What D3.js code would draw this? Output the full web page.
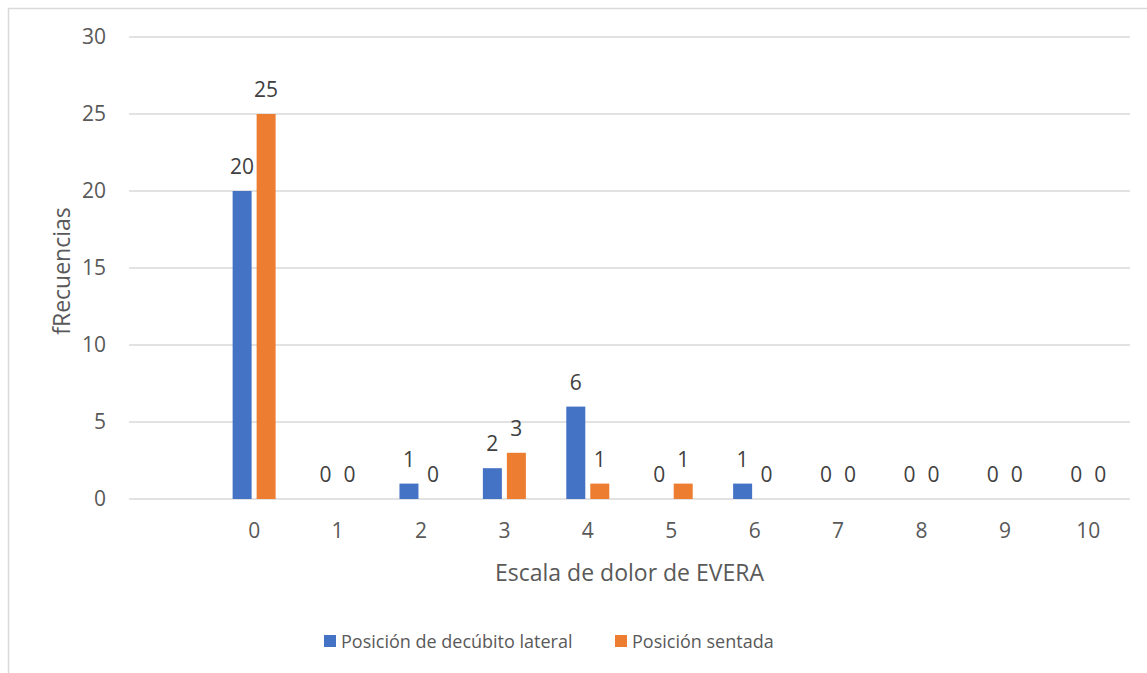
<!DOCTYPE html>
<html>
<head>
<meta charset="utf-8">
<script src="https://cdn.jsdelivr.net/npm/d3@7"></script>
<style>
  body { margin: 0; background: #fff; }
  svg { display: block; font-family: "Open Sans", "Noto Sans", sans-serif; }
</style>
</head>
<body>
<div class="chart"></div>
<script>
// categories ('' is the empty leading slot on the axis)
const categories = ['', '0', '1', '2', '3', '4', '5', '6', '7', '8', '9', '10'];
const seriesNames = ['Posición de decúbito lateral', 'Posición sentada'];
const lateral = [null, 20, 0, 1, 2, 6, 0, 1, 0, 0, 0, 0];
const sentada = [null, 25, 0, 0, 3, 1, 1, 0, 0, 0, 0, 0];
const yTicks = [0, 5, 10, 15, 20, 25, 30];
const colors = ['#4472c4', '#ed7d31'];

const width = 1147, height = 673;
const margin = {top: 37, left: 129, right: 17, bottom: 174};

const svg = d3.select('.chart').append('svg')
    .attr('width', width)
    .attr('height', height);

// chart frame (right/bottom edges fall outside the picture)
svg.append('rect')
    .attr('x', 8.5).attr('y', 8.5)
    .attr('width', 1200).attr('height', 700)
    .attr('fill', 'none')
    .attr('stroke', '#d9d9d9')
    .attr('stroke-width', 1.5);

const x = d3.scaleBand()
    .domain(categories)
    .range([margin.left, width - margin.right]);

const y = d3.scaleLinear()
    .domain([0, 30])
    .range([height - margin.bottom, margin.top]);

const series = [lateral, sentada];
const barW = 19, gap = 5;
const offset = i => (i === 0 ? -(barW + gap) / 2 : (barW + gap) / 2);

// gridlines
svg.append('g')
    .selectAll('line')
    .data(yTicks)
    .join('line')
    .attr('x1', margin.left)
    .attr('x2', width - margin.right)
    .attr('y1', d => y(d))
    .attr('y2', d => y(d))
    .attr('stroke', '#d9d9d9')
    .attr('stroke-width', 1.5);

// y axis labels
const yAxis = svg.append('g')
    .attr('transform', `translate(${margin.left - 23},0)`)
    .call(d3.axisLeft(y).tickValues(yTicks).tickSize(0).tickPadding(0));
yAxis.select('.domain').remove();
yAxis.attr('font-size', null).attr('font-family', null);
yAxis.selectAll('text')
    .attr('fill', '#595959')
    .style('font-size', '21px');

// x axis labels
const xAxis = svg.append('g')
    .attr('transform', `translate(0,${y(0) + 39})`)
    .call(d3.axisBottom(x).tickSize(0).tickPadding(0));
xAxis.select('.domain').remove();
xAxis.attr('font-size', null).attr('font-family', null);
xAxis.selectAll('text')
    .attr('fill', '#595959')
    .attr('dy', null)
    .style('font-size', '21px');

// bars
series.forEach((vals, i) => {
    const data = categories.map((c, j) => ({c, v: vals[j]})).filter(d => d.v !== null);
    svg.append('g')
        .selectAll('rect')
        .data(data)
        .join('rect')
        .attr('x', d => x(d.c) + x.bandwidth() / 2 + offset(i) - barW / 2)
        .attr('y', d => y(d.v))
        .attr('width', barW)
        .attr('height', d => y(0) - y(d.v))
        .attr('fill', colors[i]);

    svg.append('g')
        .selectAll('text')
        .data(data)
        .join('text')
        .attr('x', d => x(d.c) + x.bandwidth() / 2 + offset(i))
        .attr('y', d => y(d.v) - 17)
        .attr('text-anchor', 'middle')
        .attr('fill', '#404040')
        .style('font-size', '21px')
        .text(d => d.v);
});

// axis titles
svg.append('text')
    .attr('x', (margin.left + width - margin.right) / 2)
    .attr('y', 581)
    .attr('text-anchor', 'middle')
    .attr('fill', '#595959')
    .style('font-size', '23px')
    .text('Escala de dolor de EVERA');

svg.append('text')
    .attr('transform', `translate(70,${(margin.top + y(0)) / 2 + 3}) rotate(-90)`)
    .attr('text-anchor', 'middle')
    .attr('fill', '#595959')
    .style('font-size', '23px')
    .text('fRecuencias');

// legend
const legend = svg.append('g');
const legendX = [324, 615];
seriesNames.forEach((name, i) => {
    legend.append('rect')
        .attr('x', legendX[i]).attr('y', 635)
        .attr('width', 12).attr('height', 12)
        .attr('fill', colors[i]);
    legend.append('text')
        .attr('x', legendX[i] + 17)
        .attr('y', 648)
        .attr('fill', '#595959')
        .style('font-size', '18px')
        .text(name);
});
</script>
</body>
</html>
